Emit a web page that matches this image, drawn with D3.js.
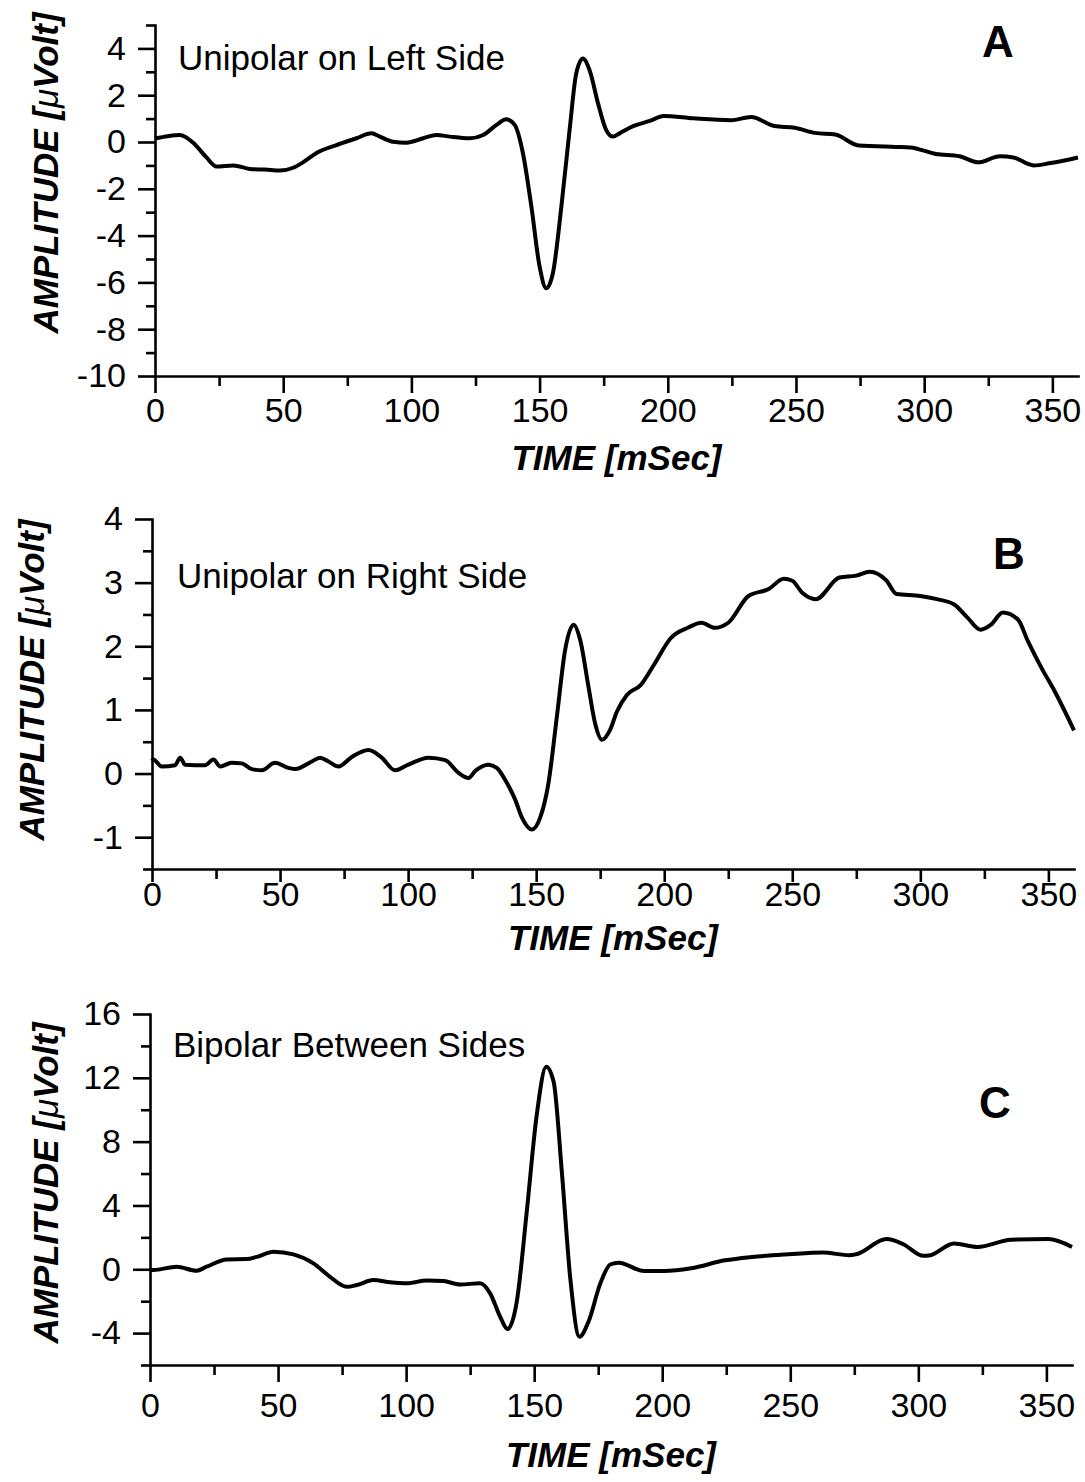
<!DOCTYPE html>
<html>
<head>
<meta charset="utf-8">
<script src="https://cdn.jsdelivr.net/npm/d3@7"></script>
<style>
  body { margin: 0; background: #fff; }
  svg { display: block; }
  text { font-family: "Liberation Sans", Arial, sans-serif; fill: #000; }
</style>
</head>
<body>
<svg width="1085" height="1482"></svg>
<script>
// ---------- data ----------
var timeA = [0, 5, 9.7, 15, 20, 24, 30.5, 37, 43, 48.7, 53.9, 58, 63, 70.8, 78.6, 84.4, 87.7, 92.9, 98, 104.6, 109.8, 115, 122.8, 128, 133.2, 137, 140.3, 143.5, 146.8, 150, 152.6, 155.2, 158.5, 161.7, 164.3, 166.9, 169.5, 172.8, 176, 178.6, 181.2, 186.5, 193, 198.4, 210, 224.6, 232.5, 241.6, 249.5, 257.4, 265.3, 274.5, 289, 294.5, 304.6, 313.8, 321, 329.6, 334.8, 342.7, 349.3, 360];
var ampA  = [0.15, 0.25, 0.3, -0.04, -0.65, -1.05, -1.0, -1.15, -1.18, -1.22, -1.1, -0.85, -0.47, -0.13, 0.16, 0.37, 0.23, 0.01, -0.03, 0.16, 0.3, 0.23, 0.16, 0.3, 0.73, 0.97, 0.73, -0.48, -2.76, -5.32, -6.25, -5.6, -2.76, 0.51, 2.93, 3.57, 3.07, 1.65, 0.51, 0.23, 0.37, 0.68, 0.9, 1.11, 1.01, 0.93, 1.07, 0.68, 0.61, 0.39, 0.32, -0.15, -0.21, -0.23, -0.51, -0.61, -0.87, -0.61, -0.66, -1.0, -0.9, -0.66];

var timeB = [0, 0.5, 3.8, 9, 11, 12.9, 20.7, 24, 26.6, 31.1, 35, 39, 42.9, 48, 53.3, 55.9, 62.4, 65.6, 68.9, 72.8, 78, 84.5, 89.7, 94.9, 100.1, 108, 114.5, 119.7, 123.6, 126.2, 131.4, 134.6, 138.6, 141.8, 144.4, 148.3, 151.6, 154.8, 158.1, 161.3, 164.6, 167.2, 170.4, 173, 175.7, 178.9, 181.5, 185.5, 190.8, 196, 202.6, 209.2, 214.5, 219.7, 225, 232.9, 240.8, 246.7, 250, 253.9, 259.2, 268.4, 275, 280.2, 286.8, 290.7, 300, 306.5, 313.1, 318.4, 323.6, 327.6, 332.2, 338.1, 342, 347.3, 352.5, 360];
var ampB  = [0.2, 0.22, 0.11, 0.13, 0.25, 0.14, 0.13, 0.22, 0.11, 0.17, 0.16, 0.07, 0.05, 0.17, 0.09, 0.07, 0.19, 0.25, 0.19, 0.11, 0.26, 0.37, 0.25, 0.05, 0.14, 0.25, 0.21, 0.01, -0.07, 0.04, 0.14, 0.09, -0.15, -0.41, -0.69, -0.88, -0.69, -0.15, 0.9, 1.94, 2.34, 2.1, 1.37, 0.79, 0.53, 0.69, 0.97, 1.24, 1.39, 1.71, 2.13, 2.29, 2.37, 2.29, 2.37, 2.79, 2.9, 3.06, 3.03, 2.84, 2.74, 3.08, 3.11, 3.17, 3.03, 2.82, 2.79, 2.74, 2.66, 2.45, 2.26, 2.34, 2.53, 2.42, 2.08, 1.66, 1.29, 0.68];

var timeC = [0, 1.3, 10.4, 18.2, 22.1, 30, 37.8, 41.7, 48.2, 56, 63.8, 70.3, 76.8, 80.7, 87.2, 93.8, 100.3, 108.1, 114.6, 121.1, 128.9, 132.8, 136.7, 139.6, 143.2, 147.1, 151, 154.7, 157.6, 160.8, 164.1, 167.7, 171.2, 175.8, 179.7, 183, 192.9, 200.8, 211.3, 224.5, 235, 249.4, 262.6, 273.1, 275.7, 287.6, 294.1, 302, 304.7, 313.9, 323.1, 336.2, 350.7, 360];
var ampC  = [-0.05, -0.05, 0.16, -0.09, 0.16, 0.62, 0.64, 0.78, 1.1, 0.93, 0.37, -0.47, -1.1, -0.99, -0.68, -0.82, -0.88, -0.7, -0.74, -0.95, -0.88, -1.51, -2.97, -3.75, -2.04, 3.6, 9.67, 12.7, 11.75, 6.11, -0.57, -4.23, -3.29, -0.9, 0.3, 0.41, -0.11, -0.11, 0.06, 0.56, 0.77, 0.94, 1.05, 0.88, 0.94, 1.89, 1.57, 0.84, 0.88, 1.62, 1.4, 1.85, 1.89, 1.4];

var xTicks  = [0, 50, 100, 150, 200, 250, 300, 350];
var yTicksA = [4, 2, 0, -2, -4, -6, -8, -10];
var yTicksB = [4, 3, 2, 1, 0, -1];
var yTicksC = [16, 12, 8, 4, 0, -4];

var panelLetters = ["A", "B", "C"];
var panelNotes = ["Unipolar on Left Side", "Unipolar on Right Side", "Bipolar Between Sides"];

// ---------- layout ----------
var panels = [
  { t: timeA, v: ampA, yDom: [-10, 5], yMajor: yTicksA, yMinor: 1, xTick: 17,
    left: 155, right: 1078, top: 25, bottom: 376, xLab: 34, xTitle: 470,
    yTitleX: 46, yTitleY: 173, letterX: 998, letterY: 57, noteX: 178, noteY: 70 },
  { t: timeB, v: ampB, yDom: [-1.5, 4], yMajor: yTicksB, yMinor: 0.5, xTick: 13,
    left: 152, right: 1074, top: 519, bottom: 869, xLab: 25, xTitle: 950,
    yTitleX: 32, yTitleY: 680, letterX: 1009, letterY: 569, noteX: 177, noteY: 588 },
  { t: timeC, v: ampC, yDom: [-6, 16], yMajor: yTicksC, yMinor: 2, xTick: 17,
    left: 150, right: 1072, top: 1014, bottom: 1365, xLab: 40, xTitle: 1467,
    yTitleX: 46, yTitleY: 1183, letterX: 995, letterY: 1118, noteX: 173, noteY: 1057 }
];

var svg = d3.select("svg");
svg.append("rect").attr("width", 1085).attr("height", 1482).attr("fill", "#fff");

panels.forEach(function (p, i) {
  var x = d3.scaleLinear().domain([0, 360]).range([p.left, p.right]);
  var y = d3.scaleLinear().domain(p.yDom).range([p.bottom, p.top]);
  var g = svg.append("g");

  // minor ticks first
  var xMinor = d3.range(25, 360, 50);
  g.append("g").attr("transform", "translate(0," + p.bottom + ")")
    .call(d3.axisBottom(x).tickValues(xMinor).tickSize(10).tickSizeOuter(0).tickFormat(""))
    .call(function (s) { s.select(".domain").remove(); });

  var yMinor = d3.range(p.yDom[0], p.yDom[1] + 1e-6, p.yMinor).filter(function (d) {
    return p.yMajor.indexOf(d) < 0;
  });
  g.append("g").attr("transform", "translate(" + p.left + ",0)")
    .call(d3.axisLeft(y).tickValues(yMinor).tickSize(9).tickSizeOuter(0).tickFormat(""))
    .call(function (s) { s.select(".domain").remove(); });

  // major axes
  var gx = g.append("g").attr("transform", "translate(0," + p.bottom + ")")
    .call(d3.axisBottom(x).tickValues(xTicks).tickSize(p.xTick).tickSizeOuter(0)
      .tickFormat(function (d) { return String(d); }));
  gx.selectAll(".tick text").attr("y", p.xLab).attr("dy", "0.36em");

  var gy = g.append("g").attr("transform", "translate(" + p.left + ",0)")
    .call(d3.axisLeft(y).tickValues(p.yMajor).tickSize(17).tickPadding(12).tickSizeOuter(0)
      .tickFormat(function (d) { return String(d); }));

  g.selectAll(".domain, .tick line").attr("stroke", "#000").attr("stroke-width", 2.6);
  g.selectAll(".tick text").attr("fill", "#000")
    .style("font-family", "'Liberation Sans', Arial, sans-serif").style("font-size", "34px");
  g.selectAll(".domain").attr("stroke-linecap", "square");

  // curve
  var line = d3.line()
    .x(function (d, k) { return x(p.t[k]); })
    .y(function (d) { return y(d); })
    .curve(d3.curveMonotoneX);
  g.append("path").datum(p.v)
    .attr("d", line)
    .attr("fill", "none")
    .attr("stroke", "#000")
    .attr("stroke-width", 4)
    .attr("stroke-linejoin", "round");

  // texts
  g.append("text")
    .attr("x", (p.left + p.right) / 2).attr("y", p.xTitle)
    .attr("text-anchor", "middle")
    .style("font-size", "35px").style("font-weight", "bold").style("font-style", "italic")
    .text("TIME [mSec]");

  var yt = g.append("text")
    .attr("transform", "translate(" + p.yTitleX + "," + p.yTitleY + ") rotate(-90)")
    .attr("text-anchor", "middle").attr("dy", "0.35em")
    .style("font-size", "35px").style("font-weight", "bold").style("font-style", "italic");
  yt.append("tspan").text("AMPLITUDE [");
  yt.append("tspan").style("font-weight", "normal").text("\u03bc");
  yt.append("tspan").text("Volt]");

  g.append("text")
    .attr("x", p.letterX).attr("y", p.letterY)
    .attr("text-anchor", "middle")
    .style("font-size", "44px").style("font-weight", "bold")
    .text(panelLetters[i]);

  g.append("text")
    .attr("x", p.noteX).attr("y", p.noteY)
    .style("font-size", "35px")
    .text(panelNotes[i]);
});
</script>
</body>
</html>
